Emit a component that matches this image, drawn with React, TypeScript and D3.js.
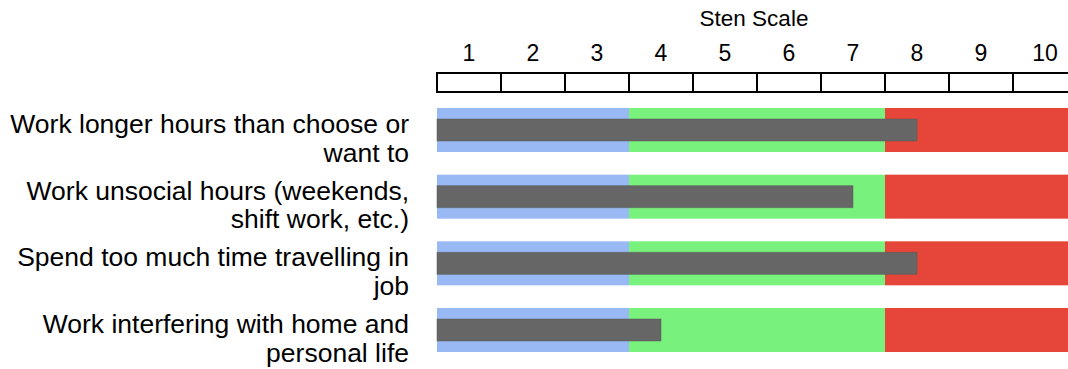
import React from "react";
import * as d3 from "d3";

const categoryLines: string[][] = [
  ["Work longer hours than choose or", "want to"],
  ["Work unsocial hours (weekends,", "shift work, etc.)"],
  ["Spend too much time travelling in", "job"],
  ["Work interfering with home and", "personal life"],
];
const categories = ["long", "unsocial", "travel", "home"];
const values = [8, 7, 8, 4];
const stenTicks = [1, 2, 3, 4, 5, 6, 7, 8, 9, 10];
const zoneBreaks = [0.5, 3.5, 7.5, 10.5];
const zoneColors = ["#99b9f5", "#78f27c", "#e64539"];

const W = 1068;
const H = 369;

export default function App() {
  const x = d3.scaleLinear().domain([0.5, 10.5]).range([437, 1077]);
  const y = d3.scaleBand<string>().domain(categories).range([108, 352]).paddingInner(0.34);
  const bw = y.bandwidth();
  const zones = zoneColors.map((c, i) => ({ from: zoneBreaks[i], to: zoneBreaks[i + 1], color: c }));

  return (
    <svg
      width={W}
      height={H}
      style={{ position: "absolute", left: 0, top: 0, display: "block", background: "#fff" }}
    >
      <text
        x={x(5.5) - 3}
        y={26}
        textAnchor="middle"
        fontFamily="Liberation Sans, Arial, sans-serif"
        fontSize={22.5}
        fill="#000"
      >
        Sten Scale
      </text>
      {stenTicks.map((t) => (
        <g key={t}>
          <text
            x={x(t)}
            y={61}
            textAnchor="middle"
            fontFamily="Liberation Sans, Arial, sans-serif"
            fontSize={23}
            fill="#000"
          >
            {t}
          </text>
          <rect
            x={x(t - 0.5)}
            y={73}
            width={x(t + 0.5) - x(t - 0.5)}
            height={19}
            fill="#fff"
            stroke="#000"
            strokeWidth={2}
          />
        </g>
      ))}
      {categories.map((c, i) => {
        const y0 = y(c)!;
        return (
          <g key={c}>
            {zones.map((z, j) => (
              <rect key={j} x={x(z.from)} y={y0} width={x(z.to) - x(z.from)} height={bw} fill={z.color} />
            ))}
            <rect
              x={x(0.5)}
              y={y0 + 11}
              width={x(values[i]) - x(0.5)}
              height={22}
              fill="#666666"
              stroke="rgba(90,90,90,0.5)"
              strokeWidth={1}
            />
            <text
              textAnchor="end"
              fontFamily="Liberation Sans, Arial, sans-serif"
              fontSize={26.5}
              fill="#000"
            >
              {categoryLines[i].map((line, k) => (
                <tspan key={k} x={409} y={y0 + 25 + k * 28.5}>
                  {line}
                </tspan>
              ))}
            </text>
          </g>
        );
      })}
    </svg>
  );
}
